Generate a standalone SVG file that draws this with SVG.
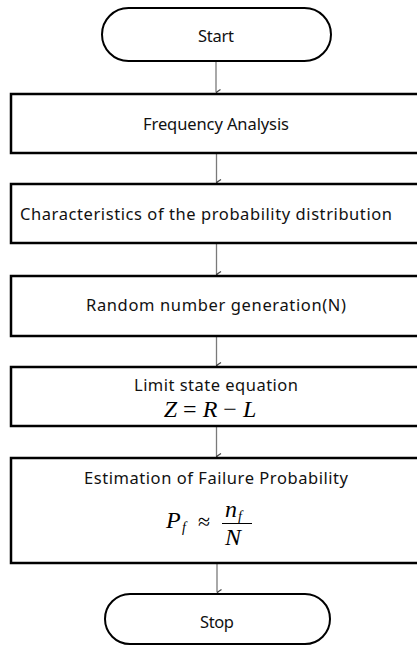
<svg xmlns="http://www.w3.org/2000/svg" width="417" height="646" viewBox="0 0 417 646">
<defs>
<style>
.term{fill:#fff;stroke:#000;stroke-width:2}
.box{fill:#fff;stroke:#000;stroke-width:2.5}
.lbl{font-family:"Noto Sans","Liberation Sans",sans-serif;font-size:16.5px;fill:#111;text-anchor:middle}
.math{font-family:"Liberation Serif","Times New Roman",serif;font-style:italic;fill:#000}
.op{font-family:"Liberation Serif","Times New Roman",serif;fill:#000}
.conn{stroke:#7a7a7a;stroke-width:1.3;fill:none}
</style>
<marker id="arr" viewBox="0 0 8 6" refX="4" refY="5.5" markerWidth="8" markerHeight="6" orient="auto" markerUnits="userSpaceOnUse">
<path d="M1,1 L4,5.5 L7,1" fill="none" stroke="#444" stroke-width="1.2"/>
</marker>
</defs>
<rect width="417" height="646" fill="#fff"/>
<g id="connectors">
<line class="conn" x1="216" y1="61" x2="216" y2="92.5" marker-end="url(#arr)"/>
<line class="conn" x1="216.5" y1="153" x2="216.5" y2="182.5" marker-end="url(#arr)"/>
<line class="conn" x1="216.5" y1="243" x2="216.5" y2="274.5" marker-end="url(#arr)"/>
<line class="conn" x1="216.5" y1="336" x2="216.5" y2="365.5" marker-end="url(#arr)"/>
<line class="conn" x1="216.5" y1="426" x2="216.5" y2="456.5" marker-end="url(#arr)"/>
<line class="conn" x1="217" y1="563" x2="217" y2="592.5" marker-end="url(#arr)"/>
</g>
<g id="start">
<rect class="term" x="102" y="8" width="229" height="53" rx="26.5" ry="26.5"/>
<text class="lbl" x="216" y="42" textLength="36">Start</text>
</g>
<g id="freq">
<rect class="box" x="11" y="94" width="420" height="59"/>
<text class="lbl" x="216" y="130" textLength="146">Frequency Analysis</text>
</g>
<g id="charac">
<rect class="box" x="11" y="184" width="420" height="59"/>
<text class="lbl" x="20" y="220" style="text-anchor:start" textLength="372">Characteristics  of the probability distribution</text>
</g>
<g id="random">
<rect class="box" x="11" y="276" width="420" height="60"/>
<text class="lbl" x="216" y="311" textLength="260">Random number generation(N)</text>
</g>
<g id="limit">
<rect class="box" x="11" y="367" width="420" height="59"/>
<text class="lbl" x="216" y="391" textLength="164">Limit state equation</text>
<text x="210" y="417" font-size="24" text-anchor="middle"><tspan class="math">Z</tspan><tspan class="op"> = </tspan><tspan class="math">R</tspan><tspan class="op"> − </tspan><tspan class="math">L</tspan></text>
</g>
<g id="estim">
<rect class="box" x="11" y="458" width="420" height="105"/>
<text class="lbl" x="216" y="484" textLength="264">Estimation of Failure Probability</text>
<text class="math" x="166" y="528" font-size="24">P</text>
<text class="math" x="182" y="532" font-size="14">f</text>
<text class="op" x="198" y="529" font-size="22">≈</text>
<text class="math" x="225" y="517" font-size="24">n</text>
<text class="math" x="238" y="521" font-size="14">f</text>
<line x1="222" y1="523.5" x2="252" y2="523.5" stroke="#000" stroke-width="1"/>
<text class="math" x="225" y="545" font-size="24">N</text>
</g>
<g id="stop">
<rect class="term" x="105" y="594" width="225" height="50" rx="25" ry="25"/>
<text class="lbl" x="217" y="628" textLength="34">Stop</text>
</g>
</svg>
